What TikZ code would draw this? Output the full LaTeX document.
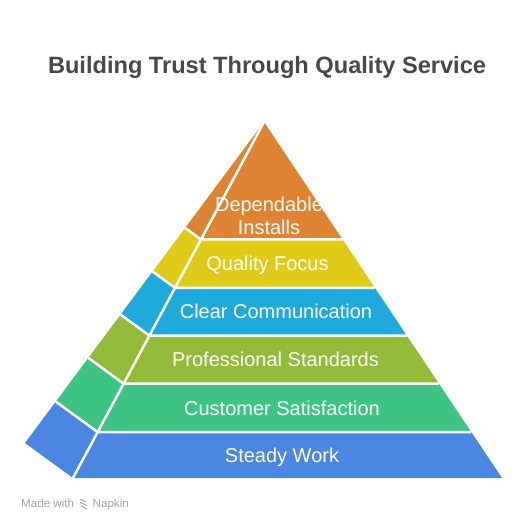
\documentclass[tikz,border=0pt]{standalone}
\usepackage{fontspec}
\setmainfont{Liberation Sans}
\usetikzlibrary{calc}
\definecolor{installsorange}{HTML}{DE8331}
\definecolor{focusyellow}{HTML}{DECA17}
\definecolor{commcyan}{HTML}{1FAADB}
\definecolor{standardsolive}{HTML}{93BB3A}
\definecolor{satisfactiongreen}{HTML}{3DC482}
\definecolor{workblue}{HTML}{4A86E2}
\definecolor{titlegray}{HTML}{484848}
\definecolor{markgray}{HTML}{A2A2A2}
\begin{document}
\begin{tikzpicture}[
    x=1pt, y=-1pt,
    every node/.style={align=center, inner sep=0pt},
    band label/.style={anchor=base, text=white, font=\fontsize{20}{23}\selectfont},
    gap line/.style={draw=white, line width=2.5pt},
    ]
\useasboundingbox (0,0) rectangle (528,528);
\node[anchor=base, text=titlegray, font=\fontsize{23.6}{28}\selectfont\bfseries] (title) at (267,73.5) {Building Trust Through Quality Service};
% pyramid corners
\coordinate (A) at (264,122);
\coordinate (B) at (73,478);
\coordinate (C) at (25,443);
\coordinate (D) at (502,478);
% band edges: front left, front right, outer side
\coordinate (L1) at ($(A)!0.330!(B)$);
\coordinate (R1) at ($(A)!0.330!(D)$);
\coordinate (O1) at ($(A)!0.330!(C)$);
\coordinate (L2) at ($(A)!0.466!(B)$);
\coordinate (R2) at ($(A)!0.466!(D)$);
\coordinate (O2) at ($(A)!0.466!(C)$);
\coordinate (L3) at ($(A)!0.600!(B)$);
\coordinate (R3) at ($(A)!0.600!(D)$);
\coordinate (O3) at ($(A)!0.600!(C)$);
\coordinate (L4) at ($(A)!0.735!(B)$);
\coordinate (R4) at ($(A)!0.735!(D)$);
\coordinate (O4) at ($(A)!0.735!(C)$);
\coordinate (L5) at ($(A)!0.871!(B)$);
\coordinate (R5) at ($(A)!0.871!(D)$);
\coordinate (O5) at ($(A)!0.871!(C)$);
% front and side faces
\fill[installsorange] (A) -- (R1) -- (L1) -- cycle;
\fill[installsorange] (A) -- (L1) -- (O1) -- cycle;
\fill[focusyellow] (L1) -- (R1) -- (R2) -- (L2) -- cycle;
\fill[focusyellow] (L1) -- (L2) -- (O2) -- (O1) -- cycle;
\fill[commcyan] (L2) -- (R2) -- (R3) -- (L3) -- cycle;
\fill[commcyan] (L2) -- (L3) -- (O3) -- (O2) -- cycle;
\fill[standardsolive] (L3) -- (R3) -- (R4) -- (L4) -- cycle;
\fill[standardsolive] (L3) -- (L4) -- (O4) -- (O3) -- cycle;
\fill[satisfactiongreen] (L4) -- (R4) -- (R5) -- (L5) -- cycle;
\fill[satisfactiongreen] (L4) -- (L5) -- (O5) -- (O4) -- cycle;
\fill[workblue] (L5) -- (R5) -- (D) -- (B) -- cycle;
\fill[workblue] (L5) -- (B) -- (C) -- (O5) -- cycle;
% white gaps
\draw[gap line] (A) -- (B);
\draw[gap line] (O1) -- (L1) -- (R1);
\draw[gap line] (O2) -- (L2) -- (R2);
\draw[gap line] (O3) -- (L3) -- (R3);
\draw[gap line] (O4) -- (L4) -- (R4);
\draw[gap line] (O5) -- (L5) -- (R5);
% labels
\node[band label] (installs) at (269,234) {Dependable\\Installs};
\node[band label] (focus) at (267.5,270) {Quality Focus};
\node[band label] (comm) at (276,318.5) {Clear Communication};
\node[band label] (standards) at (275.5,366.5) {Professional Standards};
\node[band label] (satisfaction) at (282,415) {Customer Satisfaction};
\node[band label] (work) at (282,462.5) {Steady Work};
% watermark
\node[anchor=base west, text=markgray, font=\fontsize{11.6}{13}\selectfont] (made) at (21,507.5) {Made with};
\draw[markgray, line width=0.9pt] (80,499) -- (86,502) (80,502.5) -- (87,505.5) (81,506) -- (87,509);
\node[anchor=base west, text=markgray, font=\fontsize{11.6}{13}\selectfont] (napkin) at (92.5,507.5) {Napkin};
\end{tikzpicture}
\end{document}
